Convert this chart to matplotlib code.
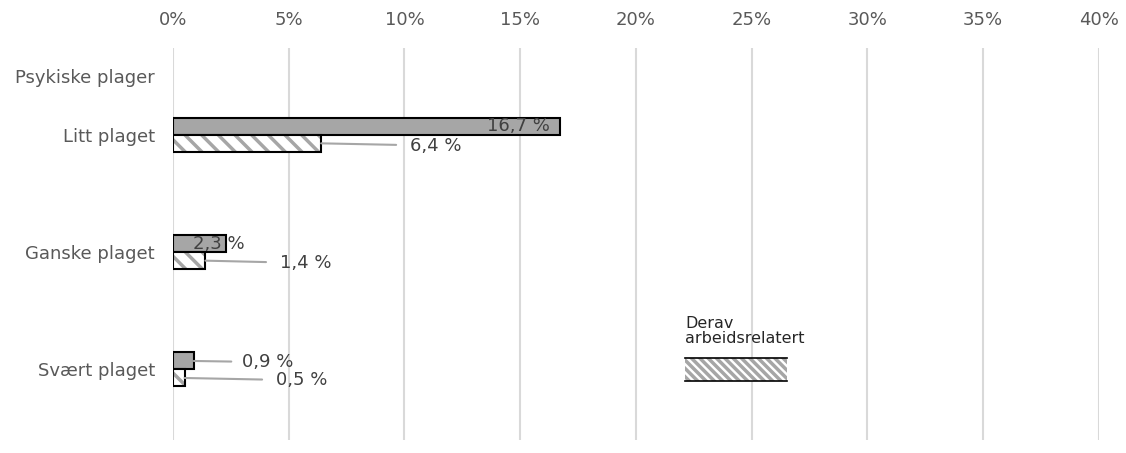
import matplotlib.pyplot as plt
from matplotlib.patches import Rectangle
from matplotlib.lines import Line2D

plt.rcParams['font.family'] = ['DejaVu Sans']
plt.rcParams['hatch.linewidth'] = 2.5

categories = ["Litt plaget", "Ganske plaget", "Svært plaget"]
header = "Psykiske plager"
totals = [16.7, 2.3, 0.9]
work_related = [6.4, 1.4, 0.5]
total_labels = ["16,7 %", "2,3 %", "0,9 %"]
work_labels = ["6,4 %", "1,4 %", "0,5 %"]

ypos = [1, 2, 3]
h = 0.145
fs = 13

fig = plt.figure(figsize=(11.26, 4.53), dpi=100)
ax = fig.add_axes([0.1536, 0.029, 0.8224, 0.865])

gray = "#a6a6a6"
txt = "#404040"

# total bars (solid grey)
ax.barh([y - h / 2 for y in ypos], totals, height=h, color=gray,
        edgecolor="black", linewidth=1.5, zorder=3)
# work related bars: hatch first, then black outline on top
ax.barh([y + h / 2 for y in ypos], work_related, height=h, color="white",
        edgecolor=gray, hatch="\\\\", linewidth=0, zorder=3)
ax.barh([y + h / 2 for y in ypos], work_related, height=h, fill=False,
        edgecolor="black", linewidth=1.5, zorder=4)

# labels for totals
ax.text(totals[0] - 0.4, ypos[0] - h / 2, total_labels[0], ha="right",
        va="center", fontsize=fs, color=txt, zorder=5)
ax.text(totals[1] - 0.3, ypos[1] - h / 2, total_labels[1], ha="center",
        va="center", fontsize=fs, color=txt, zorder=5)
ax.annotate(total_labels[2], xy=(totals[2], ypos[2] - h / 2),
            xytext=(3.0, ypos[2] - h / 2 + 0.01), ha="left", va="center",
            fontsize=fs, color=txt,
            arrowprops=dict(arrowstyle="-", color=gray, lw=1.5,
                            shrinkA=6, shrinkB=0))

# labels for work related, with leader lines
work_text_x = [10.24, 4.62, 4.45]
for y, v, lab, tx in zip(ypos, work_related, work_labels, work_text_x):
    ax.annotate(lab, xy=(v, y + h / 2), xytext=(tx, y + h / 2 + 0.02),
                ha="left", va="center", fontsize=fs, color=txt, zorder=5,
                arrowprops=dict(arrowstyle="-", color=gray, lw=1.5,
                                shrinkA=8, shrinkB=0))

ax.set_xlim(0, 40)
ax.set_ylim(3.6, 0.26)
ax.set_xticks(range(0, 41, 5))
ax.set_xticklabels([f"{t}%" for t in range(0, 41, 5)])
ax.xaxis.tick_top()
ax.tick_params(axis="x", length=0, pad=14, labelsize=fs, labelcolor="#595959")
ax.set_yticks([0.5] + ypos)
ax.set_yticklabels([header] + categories)
ax.tick_params(axis="y", length=0, pad=13, labelsize=fs, labelcolor="#595959")
ax.grid(axis="x", color="#d9d9d9", lw=1.5, zorder=0)
ax.set_axisbelow(True)
for s in ax.spines.values():
    s.set_visible(False)

# legend drawn by hand
fig.text(685 / 1126, 1 - 316 / 453, "Derav\narbeidsrelatert", ha="left",
         va="top", fontsize=11.5, color="#262626", linespacing=1.0)
lx0, lx1 = 685 / 1126, 787 / 1126
ly0, ly1 = 1 - 381 / 453, 1 - 358 / 453
fig.patches.append(Rectangle((lx0, ly0), lx1 - lx0, ly1 - ly0,
                             transform=fig.transFigure, facecolor="white",
                             edgecolor=gray, hatch="\\\\\\\\", linewidth=0))
for yy in (ly0, ly1):
    fig.lines.append(Line2D([lx0, lx1], [yy, yy], transform=fig.transFigure,
                            color="black", lw=1.2))

fig.savefig("out.png")
